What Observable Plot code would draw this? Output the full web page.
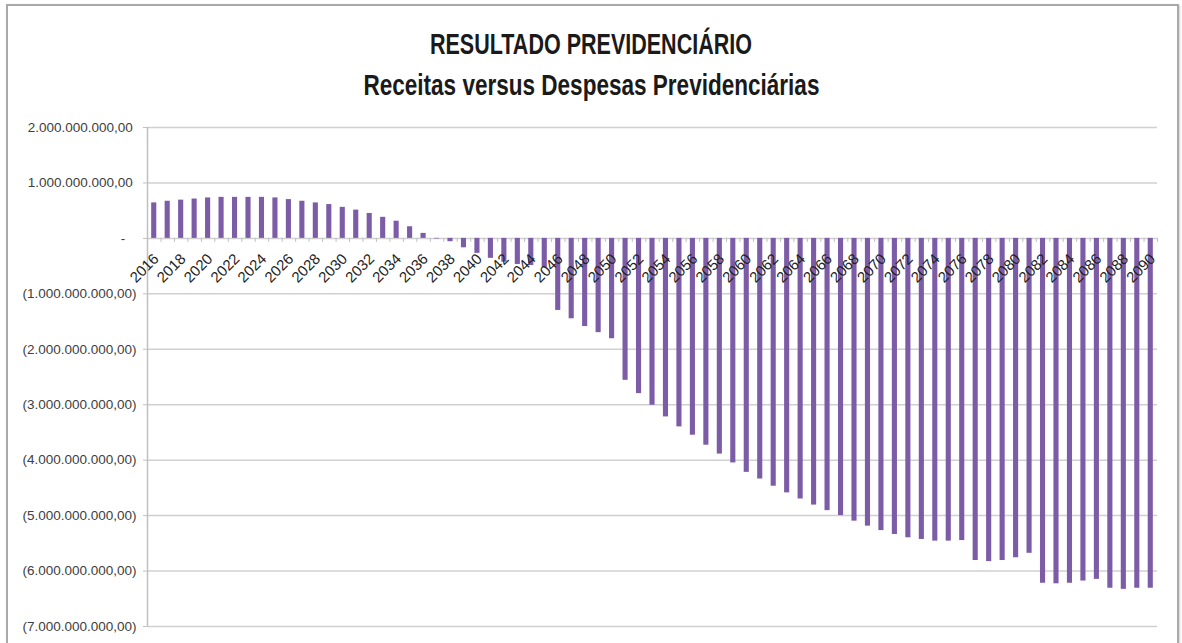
<!DOCTYPE html>
<html><head><meta charset="utf-8">
<script src="https://cdn.jsdelivr.net/npm/d3@7"></script>
<script src="https://cdn.jsdelivr.net/npm/@observablehq/plot@0.6"></script>
<style>
html,body{margin:0;padding:0;background:#fff;overflow:hidden;}
#wrap{position:relative;width:1182px;height:643px;overflow:hidden;}
#frame{position:absolute;left:6px;top:4px;width:1169px;height:720px;border:2px solid #a9a9a9;box-shadow:1px 1px 2px #d0d0d0;}
#chart{position:absolute;left:0;top:0;}
.t{position:absolute;left:0;width:1182px;text-align:center;font-family:"Liberation Sans",Arial,sans-serif;font-weight:bold;color:#1a1a1a;white-space:nowrap;line-height:32px;}
.t span{display:inline-block;transform-origin:50% 50%;}
</style></head><body>
<div id="wrap">
  <div id="frame"></div>
  <div id="chart"></div>
  <div class="t" id="t1" style="top:28px;font-size:29px;"><span>RESULTADO PREVIDENCIÁRIO</span></div>
  <div class="t" id="t2" style="top:69px;font-size:29px;"><span>Receitas versus Despesas Previdenciárias</span></div>
</div>
<script>
// Categories (years)
const years = [2016,2017,2018,2019,2020,2021,2022,2023,2024,2025,2026,2027,2028,2029,2030,2031,2032,2033,2034,2035,2036,2037,2038,2039,2040,2041,2042,2043,2044,2045,2046,2047,2048,2049,2050,2051,2052,2053,2054,2055,2056,2057,2058,2059,2060,2061,2062,2063,2064,2065,2066,2067,2068,2069,2070,2071,2072,2073,2074,2075,2076,2077,2078,2079,2080,2081,2082,2083,2084,2085,2086,2087,2088,2089,2090];
// Resultado previdenciário, in billions of reais
const resultadoBi = [0.64,0.67,0.69,0.71,0.73,0.74,0.74,0.74,0.74,0.73,0.70,0.67,0.64,0.61,0.56,0.51,0.45,0.38,0.31,0.21,0.09,-0.01,-0.06,-0.17,-0.27,-0.36,-0.43,-0.47,-0.49,-0.53,-1.30,-1.45,-1.59,-1.70,-1.81,-2.56,-2.80,-3.01,-3.22,-3.40,-3.55,-3.73,-3.89,-4.05,-4.22,-4.34,-4.47,-4.59,-4.70,-4.81,-4.91,-5.00,-5.10,-5.19,-5.27,-5.34,-5.40,-5.43,-5.46,-5.46,-5.45,-5.81,-5.83,-5.81,-5.76,-5.68,-6.22,-6.23,-6.22,-6.18,-6.15,-6.31,-6.33,-6.31,-6.31];
// Axis ticks
const yTicks = [-7e9,-6e9,-5e9,-4e9,-3e9,-2e9,-1e9,0,1e9,2e9];
const xLabelYears = [2016,2018,2020,2022,2024,2026,2028,2030,2032,2034,2036,2038,2040,2042,2044,2046,2048,2050,2052,2054,2056,2058,2060,2062,2064,2066,2068,2070,2072,2074,2076,2078,2080,2082,2084,2086,2088,2090];

const data = years.map((y, i) => ({year: y, value: resultadoBi[i] * 1e9}));

const br = d3.formatLocale({decimal: ",", thousands: ".", grouping: [3], currency: ["R$", ""]});
const num = br.format(",.2f");
const fmt = v => v === 0 ? "-\u00a0\u2007" : v < 0 ? "(" + num(-v) + ")" : num(v) + "\u00a0";

const half = 0.19;
const chart = Plot.plot({
  width: 1182, height: 643,
  marginTop: 127, marginBottom: 17, marginLeft: 147, marginRight: 25,
  style: {fontFamily: "'Liberation Sans', Arial, sans-serif", fontSize: "12px", background: "transparent", overflow: "visible"},
  x: {type: "linear", domain: [years[0] - 0.5, years[years.length - 1] + 0.5], axis: null},
  y: {domain: [yTicks[0], yTicks[yTicks.length - 1]], axis: null},
  marks: [
    Plot.ruleY(yTicks, {stroke: "#d0d0d0", strokeWidth: 1.5}),
    Plot.ruleX([years[0] - 0.5], {y1: yTicks[0], y2: yTicks[yTicks.length - 1], stroke: "#c0c0c0", strokeWidth: 1.5}),
    Plot.axisY(yTicks, {anchor: "left", label: null, tickSize: 4, tickPadding: 7, tickFormat: fmt, stroke: "#c0c0c0", fill: "#404040", fontSize: 13.5}),
    Plot.ruleX(years.map(y => y + 0.5), {y1: 0, y2: 0, insetTop: 0, insetBottom: -4, stroke: "#c0c0c0", strokeWidth: 1}),
    Plot.rectY(data, {x1: d => d.year - half, x2: d => d.year + half, y1: 0, y2: "value", fill: "#7d5ca7"}),
    Plot.text(xLabelYears, {x: d => d, y: 0, text: d => String(d), rotate: -45, textAnchor: "end", dy: 18, dx: 2, fill: "#1f1f1f", fontSize: 15})
  ]
});
document.getElementById("chart").appendChild(chart);

function fit(id, target) {
  const s = document.querySelector("#" + id + " span");
  const w = s.getBoundingClientRect().width;
  s.style.transform = "scaleX(" + (target / w) + ")";
}
fit("t1", 322);
fit("t2", 456);
</script>
</body></html>
